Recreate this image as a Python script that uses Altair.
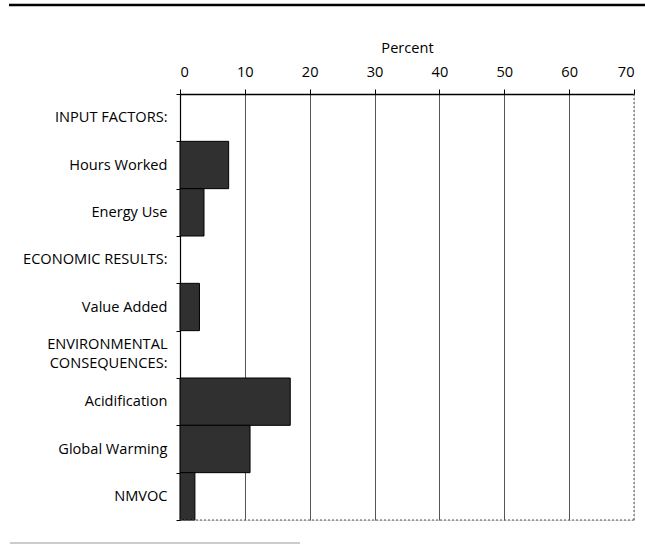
import altair as alt
import pandas as pd

categories = ["INPUT FACTORS:", "Hours Worked", "Energy Use", "ECONOMIC RESULTS:",
              "Value Added", "ENVIRONMENTAL|CONSEQUENCES:", "Acidification",
              "Global Warming", "NMVOC"]
values = [None, 7.5, 3.7, None, 3.0, None, 17.0, 10.8, 2.3]
x_ticks = [0, 10, 20, 30, 40, 50, 60, 70]
x_max = 70

W, H = 454, 426
FONT = "Open Sans"
FS = 14.6

df = pd.DataFrame({"cat": categories, "pct": values})

yenc = alt.Y("cat:N", sort=categories,
             scale=alt.Scale(domain=categories, paddingInner=0, paddingOuter=0),
             axis=alt.Axis(title=None, tickBand="extent", tickSize=4, tickColor="black",
                           domainColor="black", domainWidth=1.2, labelPadding=9,
                           labelFont=FONT, labelFontSize=FS, labelColor="black",
                           labelExpr="split(datum.label, '|')", labelLineHeight=19,
                           labelOffset={"condition": {"test": "indexof(datum.label, '|') >= 0",
                                                      "value": -9.5},
                                        "value": 0},
                           grid=False))

bars = alt.Chart(df).mark_bar(color="#303030", stroke="black", strokeWidth=1).encode(
    x=alt.X("pct:Q", scale=alt.Scale(domain=[0, x_max], nice=False, zero=True),
            axis=alt.Axis(orient="top", values=x_ticks, title="Percent",
                          titleFont=FONT, titleFontSize=FS, titleFontWeight="normal",
                          titleColor="black", titlePadding=9,
                          labelFont=FONT, labelFontSize=FS, labelColor="black",
                          labelPadding=10, tickSize=5, tickColor="black",
                          domainColor="black", domainWidth=1.5,
                          grid=True, gridColor="#555", gridWidth=1,
                          gridOpacity={"condition": {"test": "datum.value == 70", "value": 0},
                                       "value": 1})),
    y=yenc,
)

edge_df = pd.DataFrame({"x": [x_max]})
right_edge = alt.Chart(edge_df).mark_rule(color="#555", strokeDash=[2, 2], strokeWidth=1).encode(
    x=alt.X("x:Q"))

bottom_df = pd.DataFrame({"x0": [0], "x1": [x_max]})
bottom_edge = alt.Chart(bottom_df).mark_rule(color="#555", strokeDash=[2, 2], strokeWidth=1).encode(
    x="x0:Q", x2="x1:Q", y=alt.value(H))

top_rule = alt.Chart(bottom_df).mark_rule(color="black", strokeWidth=2.5).encode(
    x=alt.value(-171), x2=alt.value(465), y=alt.value(-89))
bottom_rule = alt.Chart(bottom_df).mark_rule(color="#bbbbbb", strokeWidth=1.5).encode(
    x=alt.value(-170), x2=alt.value(120), y=alt.value(449))

chart = alt.layer(bars, right_edge, bottom_edge, top_rule, bottom_rule).properties(
    width=W, height=H,
    autosize=alt.AutoSizeParams(type="none"),
    padding={"left": 180, "top": 94, "right": 11, "bottom": 25},
).configure_view(stroke=None).configure(background="white")

chart.save("out.html", embed_options={"renderer": "svg", "actions": False})
